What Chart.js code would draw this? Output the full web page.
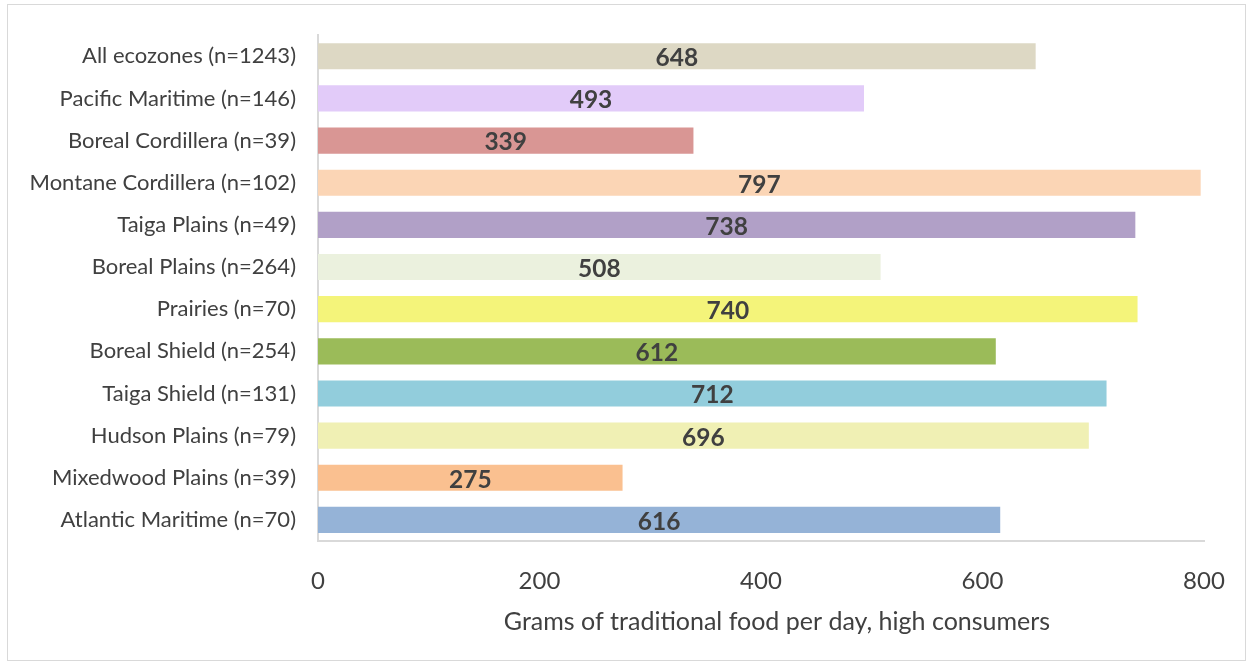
<!DOCTYPE html>
<html>
<head>
<meta charset="utf-8">
<script src="https://cdn.jsdelivr.net/npm/chart.js@4/dist/chart.umd.min.js"></script>
<style>
  html, body { margin: 0; padding: 0; background: #fff; }
  #wrap { position: absolute; left: 0; top: 0; width: 1252px; height: 665px; }
  #frame { position: absolute; left: 7px; top: 4px; width: 1237px; height: 655px; border: 1.5px solid #d9d9d9; pointer-events: none; }
</style>
</head>
<body>
<div id="wrap">
  <canvas id="chart1" width="1252" height="665"></canvas>
  <div id="frame"></div>
</div>
<script>
var categories = [
    "All ecozones (n=1243)",
    "Pacific Maritime (n=146)",
    "Boreal Cordillera (n=39)",
    "Montane Cordillera (n=102)",
    "Taiga Plains (n=49)",
    "Boreal Plains (n=264)",
    "Prairies (n=70)",
    "Boreal Shield (n=254)",
    "Taiga Shield (n=131)",
    "Hudson Plains (n=79)",
    "Mixedwood Plains (n=39)",
    "Atlantic Maritime (n=70)"
];
var grams = [648, 493, 339, 797, 738, 508, 740, 612, 712, 696, 275, 616];
var barColors = [
    "#ddd8c4", "#e2cbf9", "#d99694", "#fbd5b5", "#b1a0c7", "#ebf1de",
    "#f4f47a", "#9bbb59", "#92cddc", "#f0f0b4", "#fac090", "#95b3d7"
];
var xTicks = [0, 200, 400, 600, 800];
var axisTitle = "Grams of traditional food per day, high consumers";

var textColor = "#404040";
var fontFamily = "Lato, 'Open Sans', sans-serif";

// value labels centred inside each bar, plus the x axis title (sits a bit right of centre)
var barLabelPlugin = {
    id: 'barlabels',
    afterDatasetsDraw(chart) {
        var ctx = chart.ctx;
        var area = chart.chartArea;
        ctx.save();
        ctx.font = "bold 24.5px " + fontFamily;
        ctx.fillStyle = textColor;
        ctx.textAlign = "center";
        ctx.textBaseline = "middle";
        chart.getDatasetMeta(0).data.forEach(function(bar, i) {
            ctx.fillText(String(grams[i]), (bar.x + bar.base) / 2, bar.y + 2);
        });
        ctx.font = "25px " + fontFamily;
        ctx.fillText(axisTitle, (area.left + area.right) / 2 + 16, area.bottom + 81);
        ctx.restore();
    }
};

var ctx = document.getElementById('chart1').getContext('2d');
new Chart(ctx, {
    type: 'bar',
    data: {
        labels: categories,
        datasets: [{
            data: grams,
            backgroundColor: barColors,
            borderWidth: 0,
            categoryPercentage: 1,
            barPercentage: 0.62
        }]
    },
    options: {
        indexAxis: 'y',
        responsive: false,
        animation: false,
        events: [],
        layout: { padding: { top: 34, right: 48, left: 0, bottom: 0 } },
        plugins: {
            legend: { display: false },
            tooltip: { enabled: false }
        },
        scales: {
            x: {
                min: 0,
                max: 800,
                afterBuildTicks: function(scale) {
                    scale.ticks = xTicks.map(function(v) { return { value: v }; });
                },
                afterFit: function(scale) { scale.height = 124; },
                grid: { display: false, drawTicks: false },
                border: { display: true, color: "#d9d9d9", width: 2 },
                ticks: {
                    color: textColor,
                    padding: 26,
                    font: { family: fontFamily, size: 24 },
                    maxRotation: 0
                }
            },
            y: {
                afterFit: function(scale) { scale.width = 318; },
                grid: { display: false, drawTicks: false },
                border: { display: true, color: "#d9d9d9", width: 2 },
                ticks: {
                    color: textColor,
                    padding: 22,
                    font: { family: fontFamily, size: 22 }
                }
            }
        }
    },
    plugins: [barLabelPlugin]
});
</script>
</body>
</html>
